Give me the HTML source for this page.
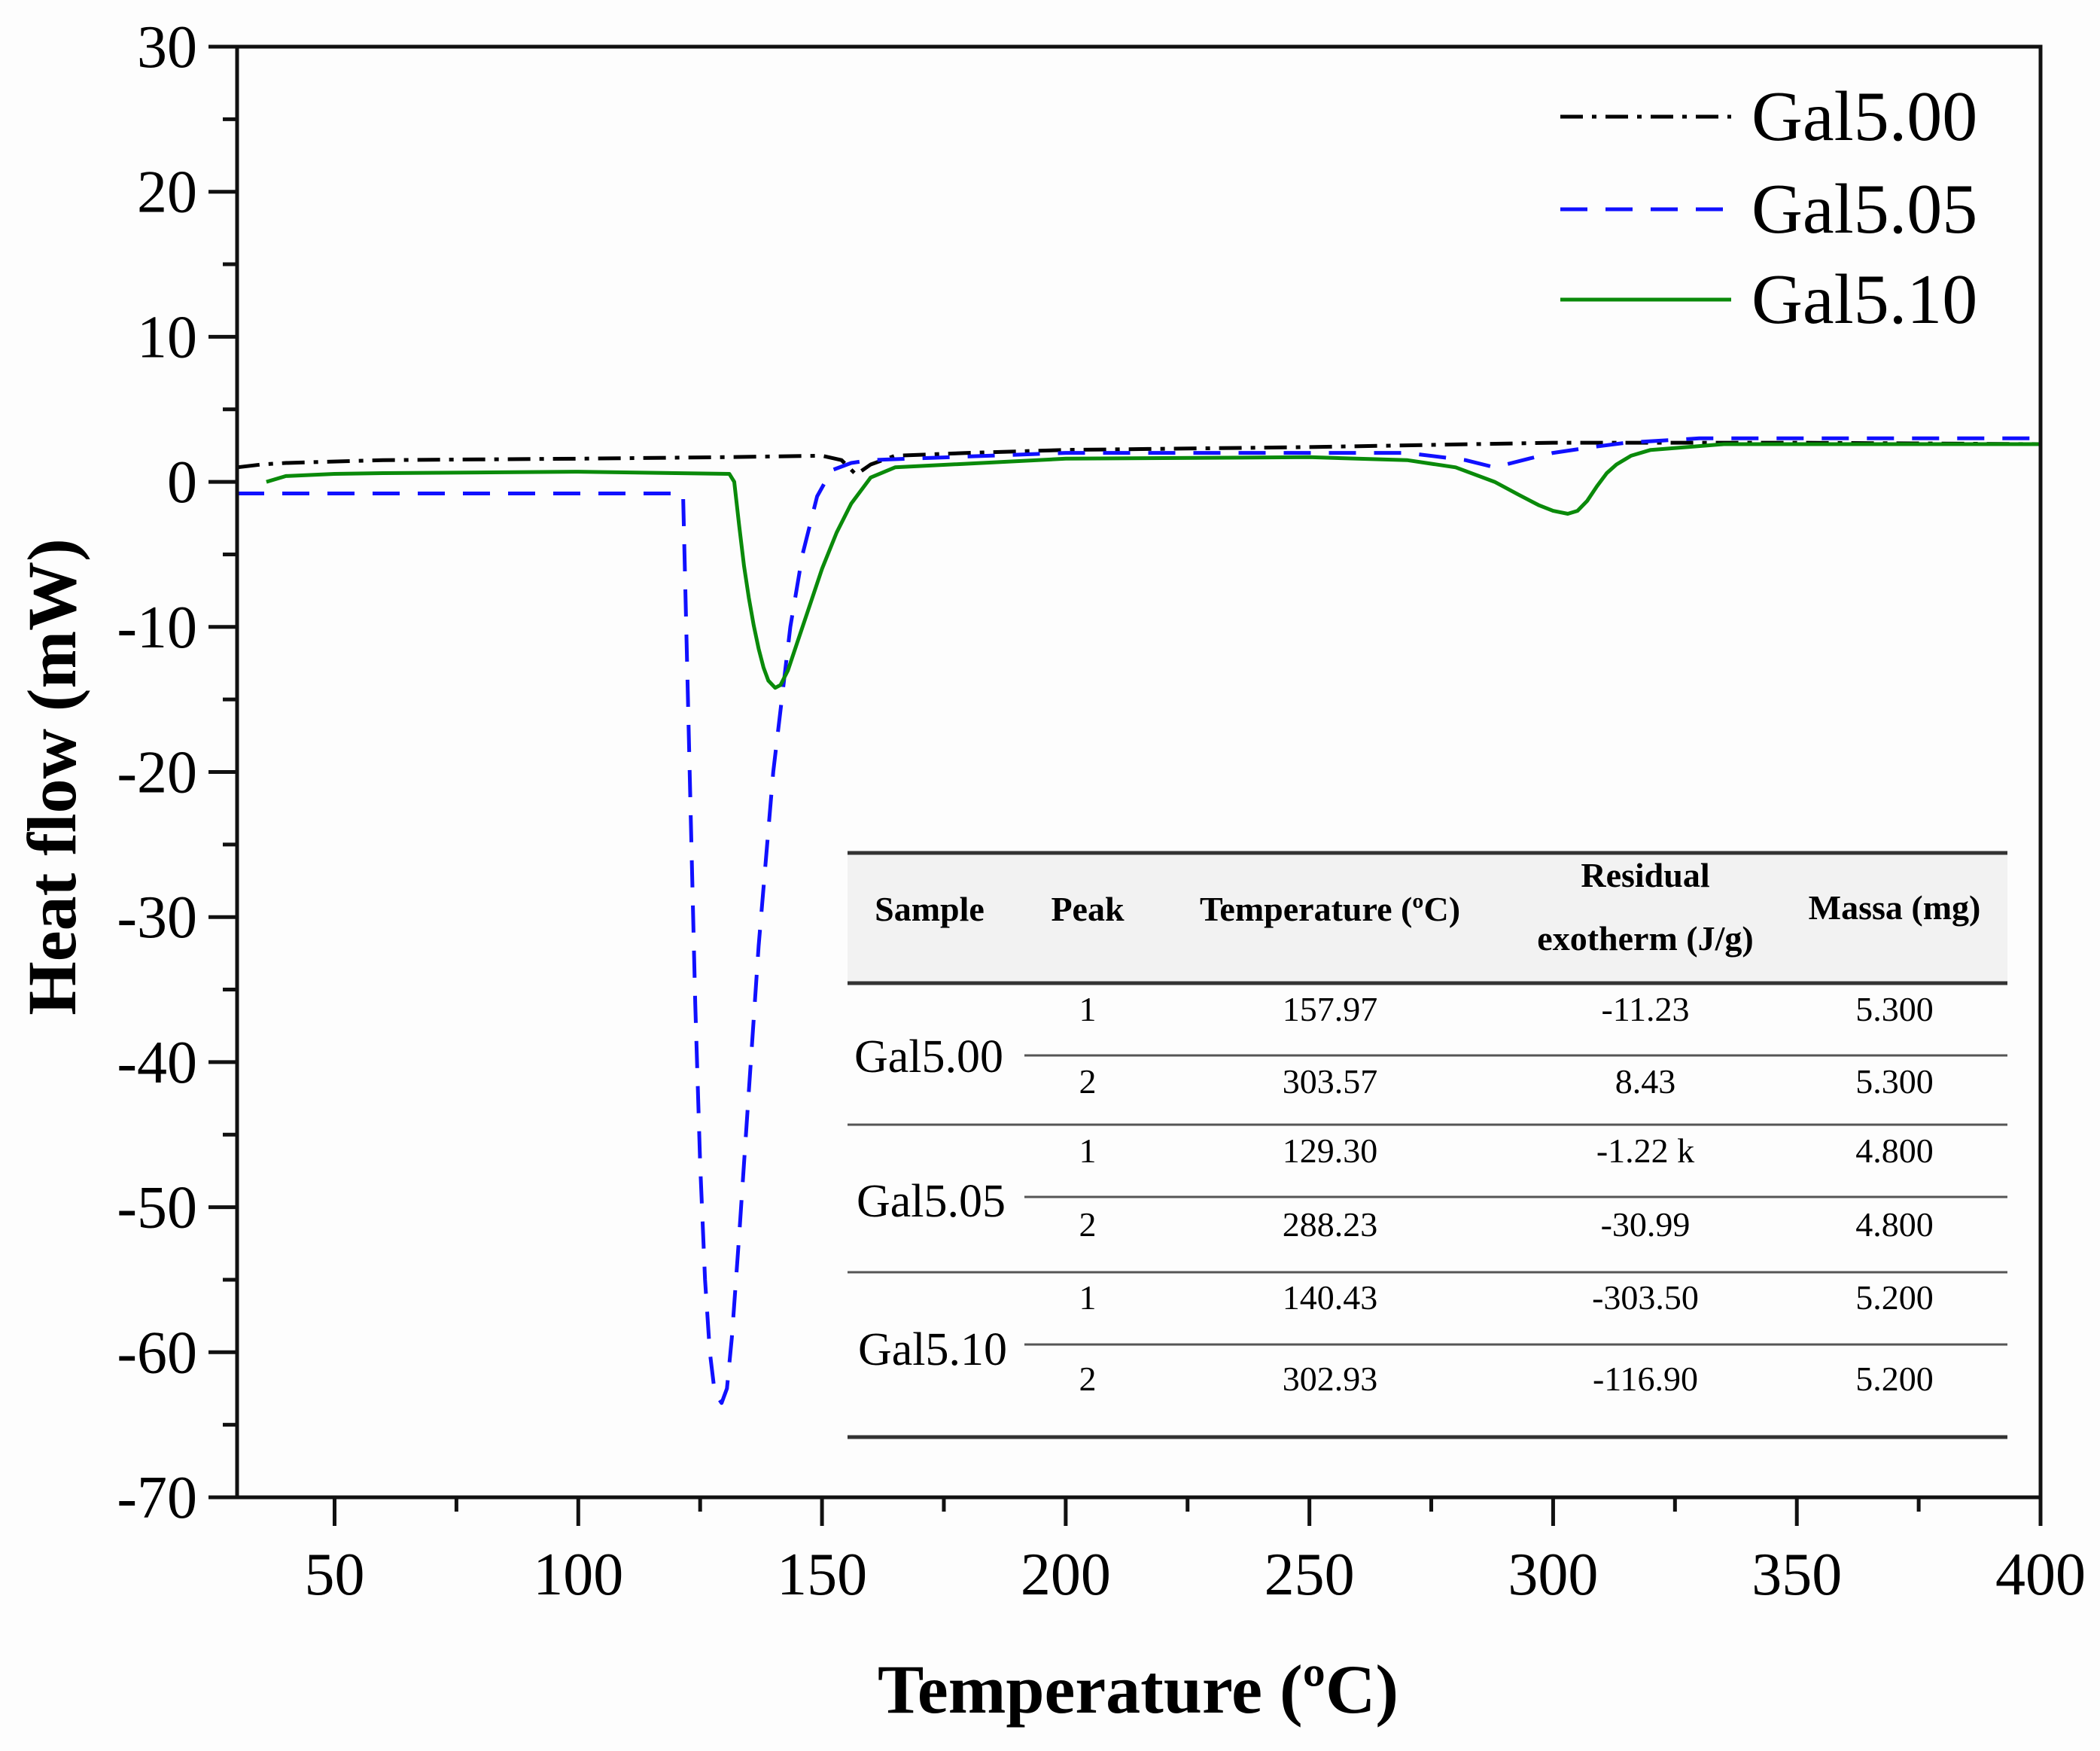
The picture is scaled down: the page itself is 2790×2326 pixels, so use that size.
<!DOCTYPE html>
<html><head><meta charset="utf-8"><style>
body{margin:0;background:#fdfdfd}
svg{display:block;font-family:"Liberation Serif",serif}
</style></head><body>
<svg id="chart" width="2790" height="2326" viewBox="0 0 2790 2326">
<rect width="2790" height="2326" fill="#fdfdfd"/>
<g id="plot"></g>
<g id="axes"></g>
<text x="1512" y="2275" font-size="92" font-weight="bold" text-anchor="middle">Temperature (ºC)</text>
<text transform="translate(100,1032) rotate(-90)" font-size="92" font-weight="bold" text-anchor="middle">Heat flow (mW)</text>
<g>
<line x1="2073" y1="155" x2="2300" y2="155" stroke="#000" stroke-width="5" stroke-dasharray="30 12 6 12"/>
<text x="2327" y="186" font-size="94">Gal5.00</text>
<line x1="2073" y1="278" x2="2300" y2="278" stroke="#1010ff" stroke-width="5" stroke-dasharray="36 24"/>
<text x="2327" y="309" font-size="94">Gal5.05</text>
<line x1="2073" y1="398" x2="2300" y2="398" stroke="#0a8a0a" stroke-width="5"/>
<text x="2327" y="429" font-size="94">Gal5.10</text>
</g>
<g font-size="46">
<rect x="1126" y="1133" width="1541" height="173" fill="#f2f2f2"/>
<line x1="1126" y1="1133" x2="2667" y2="1133" stroke="#333" stroke-width="5"/>
<line x1="1126" y1="1306" x2="2667" y2="1306" stroke="#333" stroke-width="5"/>
<line x1="1361" y1="1402" x2="2667" y2="1402" stroke="#555" stroke-width="3"/>
<line x1="1126" y1="1494" x2="2667" y2="1494" stroke="#555" stroke-width="3"/>
<line x1="1361" y1="1590" x2="2667" y2="1590" stroke="#555" stroke-width="3"/>
<line x1="1126" y1="1690" x2="2667" y2="1690" stroke="#555" stroke-width="3"/>
<line x1="1361" y1="1786" x2="2667" y2="1786" stroke="#555" stroke-width="3"/>
<line x1="1126" y1="1909" x2="2667" y2="1909" stroke="#333" stroke-width="5"/>
<g font-weight="bold" text-anchor="middle" font-size="46">
<text x="1235" y="1223">Sample</text><text x="1445" y="1223">Peak</text><text x="1767" y="1223">Temperature (ºC)</text>
<text x="2186" y="1178">Residual</text><text x="2186" y="1262">exotherm (J/g)</text><text x="2517" y="1221">Massa (mg)</text>
</g>
<g font-size="62">
<text x="1135" y="1424">Gal5.00</text><text x="1138" y="1616">Gal5.05</text><text x="1140" y="1813">Gal5.10</text>
</g>
<g text-anchor="middle">
<text x="1445" y="1356">1</text><text x="1767" y="1356">157.97</text><text x="2186" y="1356">-11.23</text><text x="2517" y="1356">5.300</text>
<text x="1445" y="1452">2</text><text x="1767" y="1452">303.57</text><text x="2186" y="1452">8.43</text><text x="2517" y="1452">5.300</text>
<text x="1445" y="1544">1</text><text x="1767" y="1544">129.30</text><text x="2186" y="1544">-1.22 k</text><text x="2517" y="1544">4.800</text>
<text x="1445" y="1642">2</text><text x="1767" y="1642">288.23</text><text x="2186" y="1642">-30.99</text><text x="2517" y="1642">4.800</text>
<text x="1445" y="1739">1</text><text x="1767" y="1739">140.43</text><text x="2186" y="1739">-303.50</text><text x="2517" y="1739">5.200</text>
<text x="1445" y="1847">2</text><text x="1767" y="1847">302.93</text><text x="2186" y="1847">-116.90</text><text x="2517" y="1847">5.200</text>
</g>
</g>
</svg>
<script>
const gal500T=[30,35,40,60,100,130,150,154,157,160,165,180,200,250,300,350,400];
const gal500H=[1.0,1.2,1.3,1.5,1.6,1.7,1.8,1.5,0.5,1.2,1.8,2.0,2.2,2.4,2.7,2.7,2.6];
const gal505T=[30,60,100,121.5,122,123,124,125,126,127,128,129.4,130.5,131.5,133,135,137,140,143.5,146,149,152,156,160,200,270,282,288,295,300,308,315,330,400];
const gal505H=[-0.8,-0.8,-0.8,-0.8,-8,-22,-36,-47,-55,-60,-62.8,-63.5,-62.5,-59,-52,-42,-32,-20,-10,-5,-1,0.8,1.3,1.5,2.0,2.0,1.5,1.0,1.6,2.0,2.4,2.7,3.0,3.0];
const gal510T=[36,40,50,60,100,131,132,133,134,135,136,137,138,139,140.4,141.5,143,145,147,150,153,156,160,165,200,250,270,280,288,293,297,300,303,305,307,309,311,313,316,320,335,400];
const gal510H=[0,0.4,0.55,0.6,0.7,0.55,0,-3,-5.8,-8,-9.9,-11.5,-12.8,-13.7,-14.2,-14,-13,-11,-9,-6,-3.5,-1.5,0.3,1.0,1.6,1.7,1.5,1.0,0,-0.9,-1.6,-2.0,-2.2,-2.0,-1.3,-0.3,0.6,1.2,1.8,2.2,2.6,2.6];
const xTicks=[50,100,150,200,250,300,350,400];
const yTicks=[30,20,10,0,-10,-20,-30,-40,-50,-60,-70];
const NS='http://www.w3.org/2000/svg';
const X0=315,X1=2711,Y0=62,Y1=1989,xmin=30,xmax=400,ymin=-70,ymax=30;
const sx=v=>X0+(v-xmin)/(xmax-xmin)*(X1-X0);
const sy=v=>Y1-(v-ymin)/(ymax-ymin)*(Y1-Y0);
function mk(tag,attrs,parent){const e=document.createElementNS(NS,tag);for(const k in attrs)e.setAttribute(k,attrs[k]);parent.appendChild(e);return e;}
const plot=document.getElementById('plot'),axes=document.getElementById('axes');
function series(T,H,color,dash,name){
 const pts=T.map((t,i)=>sx(t).toFixed(1)+','+sy(H[i]).toFixed(1)).join(' ');
 const p=mk('polyline',{points:pts,fill:'none',stroke:color,'stroke-width':5,'stroke-linejoin':'round'},plot);
 if(dash)p.setAttribute('stroke-dasharray',dash);
 
 
}
series(gal500T,gal500H,'#000','30 12 6 12','series-gal500');
series(gal505T,gal505H,'#1010ff','36 24','series-gal505');
series(gal510T,gal510H,'#0a8a0a',null,'series-gal510');
const f=mk('path',{d:`M${X0},${Y0}H${X1}V${Y1}H${X0}Z`,fill:'none',stroke:'#111','stroke-width':5},axes);


xTicks.forEach(v=>{
 const x=sx(v);
 mk('line',{x1:x,y1:Y1,x2:x,y2:Y1+38,stroke:'#111','stroke-width':5},axes);
 const t=mk('text',{x:x,y:2118,'font-size':80,'text-anchor':'middle'},axes);
 t.textContent=v;
 
 
 const m=v-25; if(m>xmin){mk('line',{x1:sx(m),y1:Y1,x2:sx(m),y2:Y1+19,stroke:'#111','stroke-width':5},axes);}
});
yTicks.forEach(v=>{
 const y=sy(v);
 mk('line',{x1:X0,y1:y,x2:X0-38,y2:y,stroke:'#111','stroke-width':5},axes);
 const t=mk('text',{x:262,y:y+27,'font-size':80,'text-anchor':'end'},axes);
 t.textContent=v;
 
 
 if(v>ymin){mk('line',{x1:X0,y1:sy(v-5),x2:X0-19,y2:sy(v-5),stroke:'#111','stroke-width':5},axes);}
});
</script>
</body></html>
